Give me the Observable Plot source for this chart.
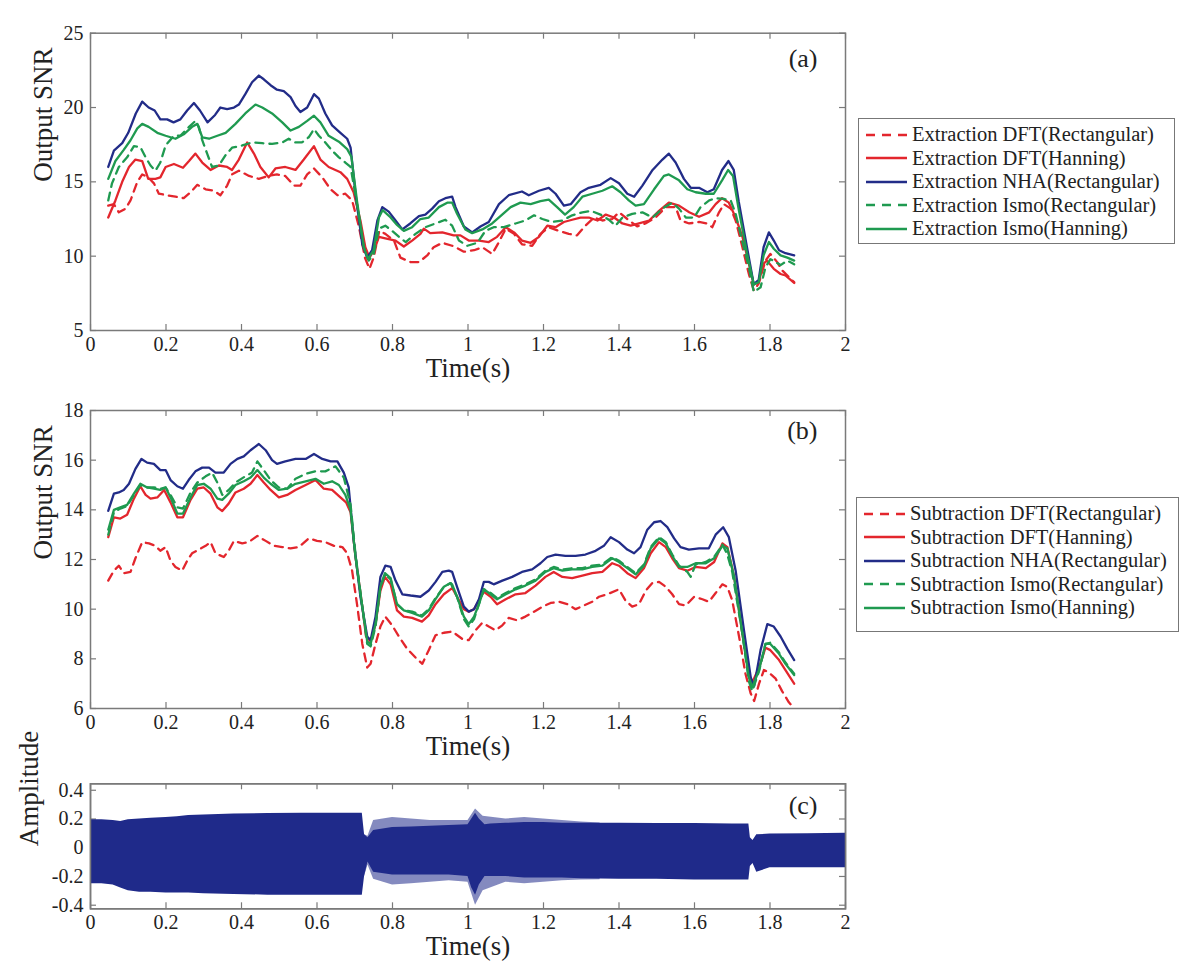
<!DOCTYPE html>
<html>
<head>
<meta charset="utf-8">
<script src="https://cdn.jsdelivr.net/npm/d3@7"></script>
<script src="https://cdn.jsdelivr.net/npm/@observablehq/plot@0.6"></script>
<style>
  html, body { margin: 0; padding: 0; background: #fff; }
  #root { position: relative; width: 1200px; height: 978px; background: #fff; font-family: "Liberation Serif", "Times New Roman", serif; color: #222; }
  #root svg text { font-family: "Liberation Serif", "Times New Roman", serif; }
  .panel { position: absolute; left: 0; }
  .legend { position: absolute; border: 1px solid #777; background: #fff; box-sizing: border-box; padding-top: 4px; }
  .legend .row { height: 23.5px; display: flex; align-items: center; font-size: 20.5px; white-space: nowrap; }
  .legend svg { margin-left: 7px; margin-right: 5px; flex: none; }
</style>
</head>
<body>
<div id="root"></div>
<script>
// ---------------- DATA ----------------
const xTicks = [0, 0.2, 0.4, 0.6, 0.8, 1, 1.2, 1.4, 1.6, 1.8, 2];
const yTicksA = [5, 10, 15, 20, 25];
const yTicksB = [6, 8, 10, 12, 14, 16, 18];
const yTicksC = [-0.4, -0.2, 0, 0.2, 0.4];

const seriesNames = ["DFT(Rectangular)", "DFT(Hanning)", "NHA(Rectangular)", "Ismo(Rectangular)", "Ismo(Hanning)"];
const seriesColors = ["#e3262d", "#e3262d", "#222c88", "#1f9a50", "#1f9a50"];
const seriesDashed = [true, false, false, true, false];

// Panel (a): Extraction, [time, SNR]
const aDftRect = [[0.047,13.4],[0.062,13.5],[0.075,12.95],[0.093,13.2],[0.106,13.75],[0.124,15.0],[0.137,15.5],[0.153,15.3],[0.168,14.9],[0.181,14.2],[0.203,14.1],[0.225,14.0],[0.247,13.9],[0.265,14.3],[0.283,14.8],[0.305,14.5],[0.327,14.4],[0.344,14.1],[0.362,14.75],[0.375,15.5],[0.393,15.75],[0.42,15.4],[0.446,15.2],[0.472,15.4],[0.494,15.5],[0.516,15.4],[0.539,14.75],[0.556,14.75],[0.574,15.5],[0.592,15.9],[0.614,15.3],[0.636,14.5],[0.654,14.1],[0.675,14.2],[0.693,13.75],[0.711,12.0],[0.727,9.9],[0.739,9.15],[0.75,9.9],[0.765,11.7],[0.781,11.5],[0.804,11.05],[0.821,9.9],[0.848,9.6],[0.87,9.6],[0.892,10.05],[0.909,10.6],[0.932,10.9],[0.958,10.7],[0.967,10.6],[0.989,10.3],[1.016,10.4],[1.038,10.6],[1.064,10.15],[1.082,10.95],[1.1,11.85],[1.122,11.5],[1.143,10.8],[1.17,10.7],[1.192,11.5],[1.214,11.95],[1.241,11.7],[1.267,11.5],[1.289,11.4],[1.311,12.05],[1.334,12.6],[1.356,12.4],[1.382,12.5],[1.4,12.95],[1.422,12.5],[1.448,12.0],[1.47,12.2],[1.497,12.6],[1.524,13.3],[1.55,13.3],[1.563,12.4],[1.586,12.2],[1.612,12.3],[1.634,12.2],[1.647,11.95],[1.665,12.95],[1.678,13.5],[1.696,13.2],[1.709,12.4],[1.727,10.6],[1.744,8.8],[1.757,7.7],[1.77,8.15],[1.788,9.7],[1.801,10.15],[1.819,9.6],[1.832,9.05],[1.85,8.6],[1.864,8.25]];
const aDftHann = [[0.047,12.6],[0.066,13.75],[0.084,15.0],[0.102,16.0],[0.119,16.5],[0.137,16.4],[0.153,15.2],[0.172,15.2],[0.185,15.3],[0.199,16.0],[0.221,16.2],[0.245,15.95],[0.261,16.4],[0.278,16.9],[0.296,16.3],[0.318,15.8],[0.34,16.1],[0.362,16.0],[0.375,15.8],[0.393,16.5],[0.415,17.65],[0.433,16.9],[0.45,16.0],[0.472,15.3],[0.49,15.9],[0.516,16.0],[0.543,15.8],[0.565,16.5],[0.592,17.4],[0.609,16.5],[0.631,16.0],[0.662,15.65],[0.68,15.2],[0.697,14.3],[0.715,12.4],[0.728,10.6],[0.739,9.9],[0.753,10.5],[0.764,11.3],[0.781,11.2],[0.808,11.05],[0.83,10.65],[0.852,11.05],[0.874,11.5],[0.883,11.85],[0.9,11.55],[0.932,11.6],[0.962,11.4],[0.98,11.4],[1.002,11.05],[1.029,11.05],[1.055,10.95],[1.077,11.3],[1.1,11.95],[1.122,11.6],[1.143,11.05],[1.166,10.9],[1.188,11.3],[1.21,12.05],[1.232,11.95],[1.254,12.3],[1.276,12.45],[1.298,12.6],[1.32,12.6],[1.343,12.4],[1.365,12.8],[1.387,12.6],[1.409,12.2],[1.431,12.05],[1.453,12.2],[1.48,12.4],[1.506,13.05],[1.532,13.6],[1.559,13.4],[1.586,12.95],[1.612,12.65],[1.639,12.95],[1.656,13.5],[1.673,13.9],[1.691,13.6],[1.709,12.6],[1.727,11.3],[1.744,9.5],[1.757,8.1],[1.77,8.25],[1.783,9.5],[1.792,9.7],[1.81,9.15],[1.828,8.8],[1.841,8.7],[1.864,8.2]];
const aNhaRect = [[0.047,16.0],[0.062,17.1],[0.084,17.6],[0.1,18.3],[0.12,19.6],[0.137,20.4],[0.154,20.0],[0.17,19.8],[0.185,19.2],[0.203,19.2],[0.22,19.0],[0.238,19.2],[0.256,19.8],[0.274,20.3],[0.29,19.8],[0.31,19.0],[0.33,19.5],[0.344,20.0],[0.362,19.9],[0.38,20.0],[0.393,20.2],[0.41,20.9],[0.428,21.7],[0.446,22.15],[0.459,21.9],[0.477,21.5],[0.494,21.2],[0.512,21.1],[0.53,20.7],[0.543,20.1],[0.556,19.7],[0.574,20.0],[0.592,20.9],[0.605,20.6],[0.622,19.6],[0.64,18.8],[0.662,18.3],[0.68,17.9],[0.689,17.3],[0.702,14.2],[0.72,10.8],[0.733,9.9],[0.746,10.4],[0.76,12.4],[0.773,13.3],[0.79,13.0],[0.808,12.4],[0.826,11.8],[0.847,12.2],[0.87,12.7],[0.887,12.8],[0.905,13.2],[0.923,13.7],[0.94,13.9],[0.958,14.0],[0.967,13.3],[0.989,12.0],[1.011,11.6],[1.033,12.0],[1.055,12.3],[1.082,13.5],[1.108,14.1],[1.143,14.35],[1.161,14.1],[1.188,14.4],[1.214,14.6],[1.232,14.2],[1.254,13.4],[1.272,13.5],[1.298,14.3],[1.32,14.6],[1.351,14.8],[1.378,15.25],[1.4,14.9],[1.422,14.2],[1.44,14.0],[1.462,14.75],[1.489,15.8],[1.515,16.5],[1.532,16.9],[1.55,16.3],[1.572,15.2],[1.59,14.6],[1.612,14.6],[1.634,14.3],[1.651,14.5],[1.673,15.8],[1.69,16.4],[1.704,15.8],[1.717,13.7],[1.739,10.6],[1.757,8.1],[1.77,8.4],[1.783,10.6],[1.797,11.6],[1.81,11.05],[1.824,10.4],[1.841,10.2],[1.864,10.05]];
const aIsmoRect = [[0.047,13.75],[0.057,14.9],[0.075,16.0],[0.097,16.65],[0.115,17.4],[0.132,17.35],[0.146,16.65],[0.159,16.1],[0.172,15.75],[0.185,16.3],[0.199,17.45],[0.221,18.1],[0.238,18.1],[0.261,18.7],[0.278,19.1],[0.287,18.7],[0.296,17.8],[0.309,16.9],[0.322,16.0],[0.34,16.1],[0.358,16.8],[0.375,17.3],[0.402,17.45],[0.428,17.65],[0.455,17.6],[0.481,17.55],[0.508,17.65],[0.525,17.9],[0.543,17.65],[0.56,17.65],[0.578,18.0],[0.592,18.55],[0.605,18.1],[0.622,17.65],[0.64,17.1],[0.658,16.65],[0.675,16.3],[0.689,16.0],[0.706,13.5],[0.724,10.6],[0.737,9.7],[0.75,10.15],[0.764,11.85],[0.781,12.05],[0.799,11.7],[0.817,11.3],[0.835,10.95],[0.861,11.5],[0.887,11.95],[0.914,12.2],[0.94,12.45],[0.958,12.05],[0.976,11.05],[0.998,10.7],[1.025,10.9],[1.046,11.7],[1.068,11.95],[1.095,11.95],[1.126,12.2],[1.152,12.4],[1.175,12.75],[1.197,12.5],[1.223,12.3],[1.25,12.4],[1.276,12.75],[1.303,12.95],[1.325,13.05],[1.351,12.8],[1.373,12.45],[1.391,12.05],[1.409,12.6],[1.435,12.85],[1.462,12.95],[1.489,12.6],[1.515,13.2],[1.541,13.6],[1.559,13.2],[1.577,12.6],[1.599,12.6],[1.616,13.3],[1.639,13.75],[1.656,13.9],[1.678,13.85],[1.696,13.75],[1.709,12.85],[1.727,10.95],[1.744,9.25],[1.757,7.6],[1.775,7.9],[1.788,9.25],[1.801,9.8],[1.815,9.6],[1.828,9.4],[1.846,9.7],[1.864,9.45]];
const aIsmoHann = [[0.047,15.2],[0.066,16.4],[0.088,17.15],[0.106,17.8],[0.124,18.6],[0.137,18.9],[0.154,18.7],[0.177,18.3],[0.199,18.1],[0.225,17.9],[0.247,18.2],[0.269,18.7],[0.283,18.9],[0.296,18.0],[0.314,17.9],[0.336,18.1],[0.358,18.3],[0.384,18.9],[0.41,19.6],[0.437,20.2],[0.455,20.0],[0.481,19.6],[0.508,19.0],[0.53,18.45],[0.552,18.7],[0.574,19.1],[0.592,19.45],[0.609,19.0],[0.631,18.1],[0.658,17.7],[0.68,17.2],[0.691,16.7],[0.706,13.7],[0.724,10.6],[0.735,9.8],[0.75,10.4],[0.764,12.6],[0.774,13.1],[0.795,12.6],[0.812,12.1],[0.83,11.7],[0.852,11.95],[0.874,12.5],[0.896,12.6],[0.923,13.3],[0.945,13.6],[0.958,13.6],[0.971,12.85],[0.993,11.8],[1.011,11.55],[1.038,11.8],[1.064,12.2],[1.086,12.7],[1.113,13.3],[1.139,13.6],[1.166,13.5],[1.192,13.7],[1.214,13.8],[1.236,13.3],[1.257,12.8],[1.28,13.3],[1.303,14.0],[1.329,14.2],[1.356,14.4],[1.382,14.7],[1.404,14.3],[1.426,13.75],[1.444,13.4],[1.466,13.5],[1.493,14.5],[1.519,15.4],[1.532,15.5],[1.559,15.1],[1.581,14.5],[1.603,14.3],[1.63,14.2],[1.651,14.2],[1.673,15.1],[1.689,15.8],[1.702,15.4],[1.716,13.3],[1.739,10.2],[1.757,8.1],[1.77,8.25],[1.783,10.05],[1.797,10.95],[1.81,10.5],[1.828,10.05],[1.846,9.9],[1.864,9.7]];

// Panel (b): Subtraction, [time, SNR]
const bDftRect = [[0.047,11.15],[0.062,11.55],[0.075,11.75],[0.088,11.45],[0.106,11.5],[0.119,12.05],[0.137,12.7],[0.155,12.65],[0.172,12.55],[0.185,12.35],[0.199,12.5],[0.212,11.95],[0.225,11.7],[0.243,11.55],[0.256,11.95],[0.269,12.25],[0.287,12.4],[0.305,12.55],[0.318,12.7],[0.331,12.25],[0.353,12.1],[0.366,12.35],[0.38,12.75],[0.402,12.65],[0.419,12.7],[0.442,12.95],[0.464,12.75],[0.486,12.55],[0.508,12.5],[0.53,12.45],[0.552,12.5],[0.578,12.85],[0.6,12.75],[0.622,12.7],[0.645,12.55],[0.667,12.5],[0.68,12.25],[0.693,11.55],[0.706,10.2],[0.72,8.6],[0.733,7.65],[0.742,7.8],[0.755,8.6],[0.768,9.3],[0.781,9.7],[0.799,9.35],[0.817,8.9],[0.839,8.4],[0.861,8.05],[0.879,7.8],[0.896,8.35],[0.914,8.95],[0.936,9.05],[0.958,9.1],[0.985,8.8],[1.002,8.75],[1.02,9.15],[1.038,9.45],[1.055,9.3],[1.073,9.15],[1.091,9.35],[1.108,9.65],[1.13,9.55],[1.152,9.7],[1.175,9.9],[1.197,10.1],[1.219,10.25],[1.241,10.3],[1.263,10.2],[1.285,10.0],[1.307,10.15],[1.329,10.3],[1.347,10.5],[1.369,10.6],[1.4,10.8],[1.417,10.35],[1.435,10.1],[1.453,10.2],[1.471,10.75],[1.488,11.05],[1.506,11.1],[1.524,10.9],[1.541,10.6],[1.559,10.2],[1.577,10.15],[1.599,10.5],[1.621,10.4],[1.638,10.3],[1.656,10.65],[1.674,11.0],[1.687,10.9],[1.7,10.35],[1.718,8.9],[1.735,7.4],[1.749,6.6],[1.758,6.3],[1.771,7.0],[1.784,7.55],[1.797,7.45],[1.815,7.2],[1.832,6.7],[1.85,6.25],[1.864,6.0]];
const bDftHann = [[0.047,12.9],[0.062,13.7],[0.079,13.65],[0.097,13.8],[0.115,14.45],[0.132,14.95],[0.146,14.6],[0.159,14.45],[0.177,14.5],[0.195,14.8],[0.212,14.3],[0.23,13.7],[0.245,13.7],[0.265,14.4],[0.283,14.85],[0.3,14.9],[0.318,14.65],[0.336,14.1],[0.349,13.95],[0.366,14.25],[0.384,14.7],[0.406,14.85],[0.424,15.05],[0.442,15.4],[0.459,15.1],[0.477,14.8],[0.499,14.5],[0.521,14.6],[0.543,14.8],[0.57,15.0],[0.596,15.2],[0.618,14.85],[0.64,14.8],[0.662,14.5],[0.677,14.3],[0.689,13.9],[0.702,12.1],[0.72,10.1],[0.73,8.9],[0.742,8.7],[0.755,9.4],[0.768,10.75],[0.78,11.3],[0.795,11.0],[0.812,9.95],[0.83,9.7],[0.852,9.65],[0.878,9.5],[0.896,9.75],[0.914,10.2],[0.936,10.6],[0.958,10.85],[0.971,10.5],[0.989,10.0],[1.002,9.9],[1.016,10.0],[1.029,10.35],[1.042,10.7],[1.06,10.5],[1.077,10.2],[1.1,10.4],[1.126,10.6],[1.152,10.65],[1.179,10.95],[1.205,11.3],[1.227,11.5],[1.25,11.3],[1.276,11.25],[1.303,11.35],[1.329,11.45],[1.356,11.5],[1.382,11.85],[1.4,11.75],[1.422,11.45],[1.444,11.25],[1.466,11.65],[1.484,12.25],[1.506,12.7],[1.524,12.5],[1.541,12.05],[1.559,11.65],[1.581,11.55],[1.603,11.7],[1.63,11.65],[1.652,11.9],[1.674,12.65],[1.687,12.5],[1.705,11.3],[1.727,9.0],[1.744,7.4],[1.753,7.05],[1.771,7.65],[1.788,8.45],[1.801,8.35],[1.824,7.95],[1.841,7.55],[1.864,7.0]];
const bNhaRect = [[0.047,13.96],[0.062,14.65],[0.075,14.7],[0.088,14.8],[0.102,15.05],[0.119,15.65],[0.135,16.05],[0.15,15.9],[0.168,15.85],[0.185,15.6],[0.199,15.6],[0.212,15.2],[0.23,14.95],[0.245,14.85],[0.26,15.2],[0.278,15.55],[0.296,15.7],[0.314,15.7],[0.331,15.5],[0.353,15.5],[0.371,15.85],[0.389,16.05],[0.406,16.15],[0.424,16.4],[0.446,16.65],[0.464,16.4],[0.481,16.0],[0.494,15.85],[0.516,15.95],[0.543,16.05],[0.57,16.05],[0.592,16.25],[0.614,16.05],[0.636,15.95],[0.654,15.95],[0.671,15.5],[0.684,14.9],[0.697,12.8],[0.715,10.5],[0.733,8.9],[0.742,8.75],[0.755,9.7],[0.768,11.3],[0.781,11.75],[0.795,11.7],[0.808,11.15],[0.826,10.6],[0.848,10.55],[0.874,10.5],[0.896,10.75],[0.914,11.1],[0.932,11.5],[0.949,11.55],[0.958,11.5],[0.971,10.9],[0.989,10.1],[1.002,9.9],[1.016,10.0],[1.029,10.4],[1.042,11.1],[1.055,11.1],[1.068,11.0],[1.091,11.15],[1.117,11.3],[1.143,11.5],[1.17,11.6],[1.192,11.85],[1.21,12.1],[1.232,12.2],[1.258,12.15],[1.285,12.15],[1.311,12.2],[1.338,12.35],[1.36,12.55],[1.378,12.9],[1.4,12.7],[1.422,12.4],[1.44,12.25],[1.457,12.5],[1.475,13.2],[1.493,13.5],[1.51,13.55],[1.528,13.3],[1.546,12.85],[1.563,12.5],[1.585,12.4],[1.612,12.45],[1.638,12.45],[1.656,13.0],[1.676,13.3],[1.691,12.9],[1.709,11.55],[1.731,9.15],[1.749,7.25],[1.758,6.9],[1.775,8.35],[1.793,9.4],[1.81,9.3],[1.828,8.9],[1.846,8.4],[1.864,7.95]];
const bIsmoRect = [[0.047,13.0],[0.062,13.9],[0.079,14.05],[0.097,14.15],[0.115,14.6],[0.132,15.0],[0.15,14.9],[0.168,14.9],[0.185,14.85],[0.199,14.9],[0.212,14.6],[0.23,14.1],[0.245,14.05],[0.265,14.7],[0.283,15.1],[0.305,15.35],[0.322,15.5],[0.336,15.1],[0.349,14.6],[0.366,14.8],[0.384,15.1],[0.41,15.35],[0.428,15.5],[0.442,15.95],[0.459,15.6],[0.477,15.2],[0.499,14.9],[0.521,14.85],[0.543,15.25],[0.57,15.45],[0.596,15.55],[0.622,15.55],[0.649,15.75],[0.671,15.3],[0.689,14.2],[0.702,12.2],[0.72,10.1],[0.733,8.6],[0.742,8.5],[0.755,9.3],[0.768,10.9],[0.78,11.4],[0.795,11.2],[0.812,10.2],[0.83,9.95],[0.852,9.9],[0.878,9.75],[0.896,10.0],[0.914,10.45],[0.936,10.9],[0.954,11.05],[0.971,10.5],[0.989,9.6],[1.002,9.3],[1.016,9.6],[1.029,10.2],[1.042,10.8],[1.06,10.65],[1.077,10.45],[1.1,10.65],[1.126,10.85],[1.152,11.0],[1.179,11.2],[1.205,11.55],[1.227,11.7],[1.25,11.6],[1.276,11.65],[1.303,11.65],[1.329,11.75],[1.356,11.8],[1.382,12.1],[1.4,11.95],[1.422,11.7],[1.444,11.45],[1.466,11.8],[1.484,12.5],[1.506,12.9],[1.524,12.7],[1.541,12.2],[1.559,11.75],[1.581,11.5],[1.59,11.3],[1.603,11.8],[1.63,11.9],[1.652,12.1],[1.674,12.6],[1.687,12.2],[1.7,11.5],[1.727,9.0],[1.744,7.1],[1.753,6.7],[1.771,7.5],[1.788,8.6],[1.801,8.65],[1.824,8.25],[1.841,7.85],[1.864,7.4]];
const bIsmoHann = [[0.047,13.2],[0.062,14.0],[0.079,14.1],[0.097,14.2],[0.115,14.65],[0.132,15.05],[0.15,14.9],[0.168,14.85],[0.185,14.8],[0.199,14.9],[0.212,14.5],[0.23,13.85],[0.245,13.85],[0.265,14.5],[0.283,15.0],[0.3,15.05],[0.318,14.85],[0.336,14.45],[0.349,14.4],[0.366,14.65],[0.384,15.0],[0.406,15.15],[0.424,15.3],[0.442,15.6],[0.459,15.3],[0.477,15.05],[0.499,14.8],[0.521,14.85],[0.543,15.05],[0.57,15.15],[0.596,15.25],[0.618,15.05],[0.64,15.15],[0.658,15.0],[0.675,14.6],[0.689,14.0],[0.702,12.1],[0.72,10.1],[0.733,8.7],[0.742,8.6],[0.755,9.4],[0.768,10.9],[0.78,11.45],[0.795,11.25],[0.812,10.2],[0.83,9.95],[0.852,9.85],[0.878,9.7],[0.896,9.95],[0.914,10.4],[0.936,10.9],[0.954,11.05],[0.958,11.0],[0.971,10.5],[0.989,9.7],[1.002,9.4],[1.016,9.7],[1.029,10.2],[1.042,10.8],[1.06,10.6],[1.077,10.4],[1.1,10.6],[1.126,10.8],[1.152,10.95],[1.179,11.15],[1.205,11.5],[1.227,11.65],[1.25,11.55],[1.276,11.6],[1.303,11.6],[1.329,11.7],[1.356,11.75],[1.382,12.05],[1.4,11.9],[1.422,11.65],[1.444,11.4],[1.466,11.75],[1.484,12.45],[1.506,12.85],[1.524,12.65],[1.541,12.15],[1.559,11.7],[1.581,11.7],[1.603,11.85],[1.63,11.85],[1.652,12.05],[1.674,12.55],[1.687,12.45],[1.705,11.3],[1.727,9.0],[1.744,7.25],[1.753,6.85],[1.771,7.55],[1.788,8.6],[1.801,8.6],[1.824,8.2],[1.841,7.8],[1.864,7.35]];

// Panel (c): waveform envelope, [time, lower, upper]
const waveCore = [[0,-0.25,0.195],[0.03,-0.25,0.195],[0.06,-0.26,0.19],[0.08,-0.28,0.182],[0.1,-0.3,0.195],[0.13,-0.31,0.2],[0.16,-0.31,0.205],[0.2,-0.315,0.21],[0.23,-0.315,0.215],[0.26,-0.315,0.225],[0.3,-0.32,0.228],[0.38,-0.325,0.235],[0.47,-0.33,0.238],[0.56,-0.33,0.24],[0.65,-0.33,0.24],[0.72,-0.33,0.24],[0.726,-0.2,0.09],[0.735,-0.1,0.07],[0.75,-0.17,0.12],[0.8,-0.19,0.14],[0.85,-0.19,0.145],[0.9,-0.19,0.15],[0.95,-0.19,0.155],[1.0,-0.2,0.16],[1.01,-0.28,0.2],[1.02,-0.33,0.24],[1.03,-0.26,0.2],[1.045,-0.2,0.16],[1.06,-0.2,0.165],[1.1,-0.2,0.17],[1.15,-0.21,0.175],[1.2,-0.21,0.175],[1.25,-0.21,0.17],[1.3,-0.215,0.17],[1.4,-0.22,0.17],[1.5,-0.22,0.168],[1.6,-0.225,0.168],[1.7,-0.225,0.165],[1.744,-0.225,0.165],[1.748,-0.13,0.07],[1.755,-0.11,0.05],[1.765,-0.17,0.09],[1.8,-0.14,0.095],[1.9,-0.14,0.097],[2.0,-0.14,0.1]];
const waveFringe = [[0.726,-0.2,0.09],[0.735,-0.12,0.08],[0.75,-0.22,0.19],[0.8,-0.26,0.21],[0.85,-0.25,0.2],[0.9,-0.24,0.19],[0.95,-0.23,0.19],[1.0,-0.24,0.19],[1.02,-0.4,0.27],[1.04,-0.3,0.22],[1.1,-0.24,0.2],[1.15,-0.25,0.21],[1.2,-0.24,0.2],[1.25,-0.23,0.19],[1.3,-0.225,0.18],[1.35,-0.222,0.172]];

// ---------------- BUILD ----------------
const root = document.getElementById("root");
const FONT = "'Liberation Serif', 'Times New Roman', serif";
const frameColor = "#7a7a7a";
const fmt = d => String(+(+d).toFixed(1));

function frameTicks(yTicks, plotW, plotH) {
  return [
    Plot.ruleX(xTicks, {x: d => d, insetTop: plotH - 6, stroke: frameColor, strokeWidth: 1.2}),
    Plot.ruleX(xTicks, {x: d => d, insetBottom: plotH - 6, stroke: frameColor, strokeWidth: 1.2}),
    Plot.ruleY(yTicks, {y: d => d, insetRight: plotW - 6, stroke: frameColor, strokeWidth: 1.2}),
    Plot.ruleY(yTicks, {y: d => d, insetLeft: plotW - 6, stroke: frameColor, strokeWidth: 1.2}),
    Plot.frame({stroke: frameColor, strokeWidth: 1.5})
  ];
}

function axes(yTicks, yLabel, yLabelDx) {
  return [
    Plot.axisX(xTicks, {tickSize: 0, tickPadding: 6, tickFormat: fmt, fontSize: 20, label: null, fill: "#222"}),
    Plot.axisY(yTicks, {tickSize: 0, tickPadding: 7, tickFormat: fmt, fontSize: 20, label: null, fill: "#222"}),
    Plot.text(["Time(s)"], {frameAnchor: "bottom", dy: 46, fontSize: 27, fill: "#222"}),
    Plot.text([yLabel], {frameAnchor: "left", dx: yLabelDx, rotate: -90, fontSize: 27, fill: "#222"})
  ];
}

function snrPanel(top, height, marginTop, marginBottom, yDomain, yTicks, seriesData, tag, tagDy) {
  const W = 860, mL = 90, mR = 15;
  const plotW = W - mL - mR, plotH = height - marginTop - marginBottom;
  const lines = seriesData.map((data, i) => Plot.line(data, {
    x: d => d[0], y: d => d[1],
    stroke: seriesColors[i], strokeWidth: 2.3,
    strokeDasharray: seriesDashed[i] ? "8,6" : null,
    strokeLinejoin: "round"
  }));
  const chart = Plot.plot({
    width: W, height,
    marginLeft: mL, marginRight: mR, marginTop, marginBottom,
    x: {domain: [0, 2]},
    y: {domain: yDomain},
    style: {fontFamily: FONT, color: "#222", background: "transparent", overflow: "visible"},
    marks: [
      ...lines,
      ...frameTicks(yTicks, plotW, plotH),
      ...axes(yTicks, "Output SNR", -47),
      Plot.text([tag], {frameAnchor: "top-right", dx: -28, dy: tagDy, textAnchor: "end", lineAnchor: "top", fontSize: 26, fill: "#222"})
    ]
  });
  chart.classList.add("panel");
  chart.style.top = top + "px";
  root.appendChild(chart);
}

snrPanel(0, 385, 32.7, 55, [5, 25], yTicksA, [aDftRect, aDftHann, aNhaRect, aIsmoRect, aIsmoHann], "(a)", 15);
snrPanel(380, 385, 30, 57, [6, 18], yTicksB, [bDftRect, bDftHann, bNhaRect, bIsmoRect, bIsmoHann], "(b)", 10);

// Panel (c)
(function () {
  const W = 860, H = 215, mL = 90, mR = 15, mT = 23.3, mB = 66.7;
  const plotW = W - mL - mR, plotH = H - mT - mB;
  const waveColor = "#1f2a8a";
  const chart = Plot.plot({
    width: W, height: H,
    marginLeft: mL, marginRight: mR, marginTop: mT, marginBottom: mB,
    x: {domain: [0, 2]},
    y: {domain: [-0.425, 0.445]},
    style: {fontFamily: FONT, color: "#222", background: "transparent", overflow: "visible"},
    marks: [
      ...frameTicks(yTicksC, plotW, plotH),
      Plot.areaY(waveFringe, {x: d => d[0], y1: d => d[1], y2: d => d[2], fill: waveColor, fillOpacity: 0.55, curve: "linear"}),
      Plot.areaY(waveCore, {x: d => d[0], y1: d => d[1], y2: d => d[2], fill: waveColor, curve: "linear"}),
      Plot.frame({stroke: frameColor, strokeWidth: 1.5}),
      ...axes(yTicksC, "Amplitude", -61),
      Plot.text(["(c)"], {frameAnchor: "top-right", dx: -28, dy: 12, textAnchor: "end", lineAnchor: "top", fontSize: 26, fill: "#222"})
    ]
  });
  chart.classList.add("panel");
  chart.style.top = "760px";
  root.appendChild(chart);
})();

// Legends (HTML boxes)
function legend(prefix, left, top, width, height) {
  const box = document.createElement("div");
  box.className = "legend";
  Object.assign(box.style, {left: left + "px", top: top + "px", width: width + "px", height: height + "px"});
  seriesNames.forEach((name, i) => {
    const row = document.createElement("div");
    row.className = "row";
    const ns = "http://www.w3.org/2000/svg";
    const sw = document.createElementNS(ns, "svg");
    sw.setAttribute("width", 41); sw.setAttribute("height", 10);
    const ln = document.createElementNS(ns, "line");
    ln.setAttribute("x1", 0); ln.setAttribute("x2", 41); ln.setAttribute("y1", 5); ln.setAttribute("y2", 5);
    ln.setAttribute("stroke", seriesColors[i]); ln.setAttribute("stroke-width", 2.4);
    if (seriesDashed[i]) ln.setAttribute("stroke-dasharray", "9,7");
    sw.appendChild(ln);
    row.appendChild(sw);
    const span = document.createElement("span");
    span.textContent = prefix + " " + name;
    row.appendChild(span);
    box.appendChild(row);
  });
  root.appendChild(box);
}
legend("Extraction", 858, 118, 317, 126);
legend("Subtraction", 856, 497, 323, 135);
</script>
</body>
</html>
